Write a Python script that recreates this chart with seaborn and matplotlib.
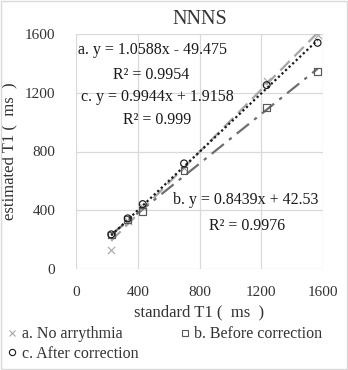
import numpy as np
import pandas as pd
import matplotlib
matplotlib.use("Agg")
import matplotlib.pyplot as plt
import seaborn as sns
from matplotlib.lines import Line2D

# ---- data ----
standard_t1 = [228, 335, 432, 700, 1235, 1565]
a_no_arrhythmia = [130, 330, 420, 690, 1280, 1595]
b_before_corr = [232, 338, 392, 669, 1100, 1342]
c_after_corr = [236, 345, 442, 719, 1252, 1540]
series_names = ["a. No arrythmia", "b. Before correction", "c. After correction"]
fit_slopes = [1.0588, 0.8439, 0.9944]
fit_intercepts = [-49.475, 42.53, 1.9158]
ticks = [0, 400, 800, 1200, 1600]

sns.set_theme(style="white")
plt.rcParams["font.family"] = ["Liberation Serif", "DejaVu Serif"]

W, H = 348, 370
fig = plt.figure(figsize=(W / 100, H / 100), dpi=100)
ax = fig.add_axes([76 / W, 1 - 269 / H, (323 - 76) / W, (269 - 34) / H])

df = pd.DataFrame({
    "x": standard_t1 * 3,
    "y": a_no_arrhythmia + b_before_corr + c_after_corr,
    "series": sum([[n] * len(standard_t1) for n in series_names], []),
})

line_styles = [
    dict(color="#A6A6A6", linestyle=(0, (6, 3)), linewidth=1.6),
    dict(color="#6E6E6E", linestyle=(0, (7, 3, 1.5, 3)), linewidth=1.6),
    dict(color="#1A1A1A", linestyle=(0, (1, 1.2)), linewidth=1.6),
]
xs = np.array([min(standard_t1), max(standard_t1)])
for i, n in enumerate(series_names):
    fit = pd.DataFrame({"x": xs, "y": fit_slopes[i] * xs + fit_intercepts[i]})
    sns.lineplot(data=fit, x="x", y="y", ax=ax, legend=False, **line_styles[i])

sub = df[df.series == series_names[0]]
sns.scatterplot(data=sub, x="x", y="y", ax=ax, marker="x", color="#A6A6A6",
                s=28, linewidth=0.8, legend=False, zorder=3)
sub = df[df.series == series_names[1]]
sns.scatterplot(data=sub, x="x", y="y", ax=ax, marker="s", facecolor="none",
                edgecolor="#595959", s=24, linewidth=0.85, legend=False, zorder=3)
sub = df[df.series == series_names[2]]
sns.scatterplot(data=sub, x="x", y="y", ax=ax, marker="o", facecolor="none",
                edgecolor="#1A1A1A", s=24, linewidth=0.85, legend=False, zorder=4)

ax.set_xlim(0, 1600)
ax.set_ylim(0, 1600)
ax.set_xticks(ticks)
ax.set_yticks(ticks)
ax.set_xticklabels([str(t) for t in ticks], fontsize=11, color="#333333")
ax.set_yticklabels([str(t) for t in ticks], fontsize=11, color="#333333")
ax.tick_params(axis="y", length=0, pad=15)
ax.tick_params(axis="x", length=0, pad=12)
ax.grid(True, color="#D9D9D9", linewidth=0.9)
for s in ax.spines.values():
    s.set_visible(False)
ax.set_xlabel("standard T1 (  ms  )", fontsize=12, color="#333333", labelpad=4)
ax.set_ylabel("estimated T1 (  ms  )", fontsize=12, color="#333333", labelpad=5)
ax.set_title("NNNS", fontsize=14.5, color="#333333", pad=7)

def ftext(x, y, s, ha="left"):
    fig.text(x / W, 1 - y / H, s, ha=ha, va="center", fontsize=11.5, color="#1A1A1A")

ftext(78, 50, "a. y = 1.0588x - 49.475")
ftext(151, 75, "R² = 0.9954", ha="center")
ftext(81, 97, "c. y = 0.9944x + 1.9158")
ftext(157, 120, "R² = 0.999", ha="center")
ftext(173, 200, "b. y = 0.8439x + 42.53")
ftext(247, 226, "R² = 0.9976", ha="center")

mk = [
    Line2D([], [], marker="x", color="#A6A6A6", linestyle="none", markersize=4.5, markeredgewidth=0.8),
    Line2D([], [], marker="s", markerfacecolor="none", markeredgecolor="#595959", linestyle="none", markersize=4.5, markeredgewidth=0.8),
    Line2D([], [], marker="o", markerfacecolor="none", markeredgecolor="#1A1A1A", linestyle="none", markersize=4.5, markeredgewidth=0.8),
]
order = [0, 2, 1]
fig.legend([mk[i] for i in order], [series_names[i] for i in order],
           loc="upper left", bbox_to_anchor=(1 / W, 1 - 320 / H),
           ncol=2, frameon=False, fontsize=11.5, handlelength=0.6, handletextpad=0.3,
           columnspacing=2.6, labelspacing=0.2, borderaxespad=0, labelcolor="#333333")

fig.patches.append(plt.Rectangle((0.002, 0.002), 0.995, 0.995, transform=fig.transFigure,
                                 fill=False, edgecolor="#D9D9D9", linewidth=1))
fig.savefig("out.png", dpi=100, facecolor="white")
